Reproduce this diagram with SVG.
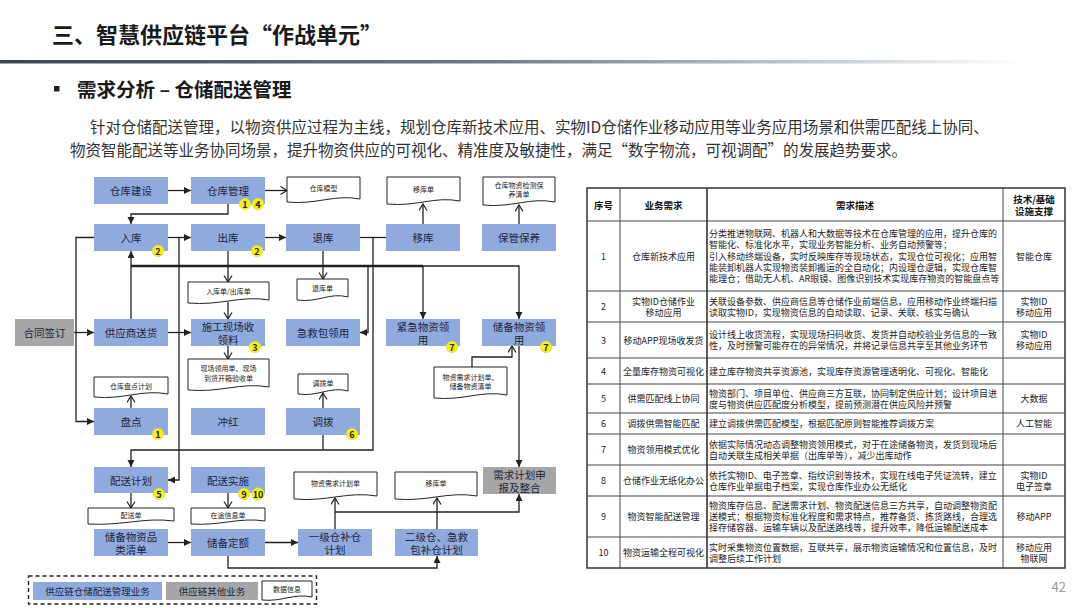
<svg xmlns="http://www.w3.org/2000/svg" width="1080" height="608" viewBox="0 0 1080 608">
<style>
text{font-family:"Noto Sans CJK SC","Noto Sans",sans-serif}
.bx{fill:#8faadc}
.gx{fill:#a6a6a6}
.nt{font-size:10.5px;fill:#1c2740;text-anchor:middle;dominant-baseline:central}
.dc{fill:#fff;stroke:#222;stroke-width:1}
.dt{font-size:7px;fill:#222;text-anchor:middle;dominant-baseline:central}
.bd circle{fill:#f4f20c;stroke:#d8d470;stroke-width:0.6}
.bd text{font-size:9px;font-weight:bold;fill:#222;text-anchor:middle;dominant-baseline:central}
.ln{fill:none;stroke:#222;stroke-width:1.3}
.fa{marker-end:url(#fa)}
.oa{marker-end:url(#oa)}
.tb{fill:none;stroke:#444;stroke-width:1}
.th{font-size:9.5px;font-weight:bold;fill:#111;text-anchor:middle;dominant-baseline:central}
.tc{font-size:9px;fill:#222;text-anchor:middle;dominant-baseline:central}
.td{font-size:9px;fill:#222;dominant-baseline:central}
</style>
<defs>
<marker id="fa" markerUnits="userSpaceOnUse" markerWidth="8" markerHeight="8" refX="7" refY="3.5" orient="auto">
<path d="M0,0 L7,3.5 L0,7 z" fill="#222"/>
</marker>
<marker id="oa" markerUnits="userSpaceOnUse" markerWidth="9" markerHeight="10" refX="7" refY="4.5" orient="auto">
<path d="M0.5,0.5 L7,4.5 L0.5,8.5" fill="none" stroke="#222" stroke-width="1.2"/>
</marker>
<linearGradient id="sep" x1="0" y1="0" x2="1" y2="0">
<stop offset="0" stop-color="#3b4651"/>
<stop offset="0.45" stop-color="#6d7a86"/>
<stop offset="0.75" stop-color="#c3cad0"/>
<stop offset="0.95" stop-color="#ffffff"/>
</linearGradient>
</defs>
<rect width="1080" height="608" fill="#fff"/>

<g id="header">
<text x="52" y="43" font-size="22" font-weight="bold" fill="#1a1a1a">三、智慧供应链平台“作战单元”</text>
<rect x="0" y="60" width="1080" height="3.5" fill="url(#sep)"/>
<rect x="54" y="86" width="5.5" height="5.5" fill="#222"/>
<text x="77" y="97" font-size="19.5" font-weight="bold" fill="#1a1a1a">需求分析 – 仓储配送管理</text>
<text x="90" y="133" font-size="15.5" fill="#333">针对仓储配送管理，以物资供应过程为主线，规划仓库新技术应用、实物ID仓储作业移动应用等业务应用场景和供需匹配线上协同、</text>
<text x="70" y="156" font-size="15.5" fill="#333">物资智能配送等业务协同场景，提升物资供应的可视化、精准度及敏捷性，满足“数字物流，可视调配”的发展趋势要求。</text>
</g>

<g id="connectors">
<path class="ln fa" d="M168,190.5 H191"/>
<path class="ln oa" d="M265,190.5 H287"/>
<path class="ln fa" d="M228,204 V214 H131 V224"/>
<path class="ln fa" d="M168,237.5 H191"/>
<path class="ln fa" d="M265,237.5 H286"/>
<path class="ln" d="M360,237.5 H386"/>
<path class="ln fa" d="M373,237.5 V450 H131 V467"/>
<path class="ln fa" d="M94,237.5 H76 V421.5 H94"/>
<path class="ln fa" d="M74,332.5 H94"/>
<path class="ln fa" d="M131,319 V251"/>
<path fill="none" stroke="#222" stroke-width="2.6" d="M131,266 H423"/>
<path class="ln fa" d="M423,266 V319"/>
<path class="ln fa" d="M423,266 H519 V319"/>
<path class="ln fa" d="M368,266 V332.5 H360"/>
<path class="ln fa" d="M179,237.5 V480 H168"/>
<path class="ln fa" d="M168,332.5 H191"/>
<path class="ln oa" d="M228,251 V282"/>
<path class="ln oa" d="M228,302 V319"/>
<path class="ln oa" d="M228,346 V359"/>
<path class="ln oa" d="M323,251 V279"/>
<path class="ln oa" d="M423,224 V204"/>
<path class="ln oa" d="M519,224 V205"/>
<path class="ln oa" d="M131,408 V396"/>
<path class="ln oa" d="M323,408 V393"/>
<path class="ln" d="M323,435 V450"/>
<path class="ln oa" d="M472,367 V357 H512 V346"/>
<path class="ln fa" d="M519,346 V467"/>
<path class="ln oa" d="M131,493 V508"/>
<path class="ln oa" d="M228,493 V508"/>
<path class="ln fa" d="M168,542.5 H191"/>
<path class="ln fa" d="M265,542.5 H298"/>
<path class="ln fa" d="M228,556 V568 H437 V556"/>
<path class="ln oa" d="M335,529 V498"/>
<path class="ln fa" d="M335,512 H519 V494"/>
<path class="ln oa" d="M437,529 V498"/>
</g>

<g id="n-jianshe"><rect class="bx" x="94" y="177" width="74" height="27"/><text class="nt" x="131" y="190.5">仓库建设</text></g>
<g id="n-guanli"><rect class="bx" x="191" y="177" width="74" height="27"/><text class="nt" x="228" y="190.5">仓库管理</text></g>
<g id="n-ruku"><rect class="bx" x="94" y="224" width="74" height="27"/><text class="nt" x="131" y="237.5">入库</text></g>
<g id="n-chuku"><rect class="bx" x="191" y="224" width="74" height="27"/><text class="nt" x="228" y="237.5">出库</text></g>
<g id="n-tuiku"><rect class="bx" x="286" y="224" width="74" height="27"/><text class="nt" x="323" y="237.5">退库</text></g>
<g id="n-yiku"><rect class="bx" x="386" y="224" width="74" height="27"/><text class="nt" x="423" y="237.5">移库</text></g>
<g id="n-baoguan"><rect class="bx" x="482" y="224" width="74" height="27"/><text class="nt" x="519" y="237.5">保管保养</text></g>
<g id="n-hetong"><rect class="gx" x="15" y="319" width="59" height="27"/><text class="nt" x="44.5" y="332.5">合同签订</text></g>
<g id="n-songhuo"><rect class="bx" x="94" y="319" width="74" height="27"/><text class="nt" x="131" y="332.5">供应商送货</text></g>
<g id="n-shigong"><rect class="bx" x="191" y="319" width="74" height="27"/><text class="nt" x="228" y="326">施工现场收</text><text class="nt" x="228" y="339">领料</text></g>
<g id="n-jijiu"><rect class="bx" x="286" y="319" width="74" height="27"/><text class="nt" x="323" y="332.5">急救包领用</text></g>
<g id="n-jinji"><rect class="bx" x="386" y="319" width="74" height="27"/><text class="nt" x="423" y="326">紧急物资领</text><text class="nt" x="423" y="339">用</text></g>
<g id="n-chubei"><rect class="bx" x="482" y="319" width="74" height="27"/><text class="nt" x="519" y="326">储备物资领</text><text class="nt" x="519" y="339">用</text></g>
<g id="n-pandian"><rect class="bx" x="94" y="408" width="74" height="27"/><text class="nt" x="131" y="421.5">盘点</text></g>
<g id="n-chonghong"><rect class="bx" x="191" y="408" width="74" height="27"/><text class="nt" x="228" y="421.5">冲红</text></g>
<g id="n-diaobo"><rect class="bx" x="286" y="408" width="74" height="27"/><text class="nt" x="323" y="421.5">调拨</text></g>
<g id="n-peisongjihua"><rect class="bx" x="94" y="467" width="74" height="26"/><text class="nt" x="131" y="480">配送计划</text></g>
<g id="n-peisongshishi"><rect class="bx" x="191" y="467" width="74" height="26"/><text class="nt" x="228" y="480">配送实施</text></g>
<g id="n-xuqiu"><rect class="gx" x="483" y="467" width="73" height="27"/><text class="nt" x="519.5" y="474">需求计划申</text><text class="nt" x="519.5" y="487">报及整合</text></g>
<g id="n-pinlei"><rect class="bx" x="94" y="529" width="74" height="27"/><text class="nt" x="131" y="536">储备物资品</text><text class="nt" x="131" y="549">类清单</text></g>
<g id="n-dinge"><rect class="bx" x="191" y="529" width="74" height="27"/><text class="nt" x="228" y="542.5">储备定额</text></g>
<g id="n-yiji"><rect class="bx" x="298" y="529" width="74" height="27"/><text class="nt" x="335" y="536">一级仓补仓</text><text class="nt" x="335" y="549">计划</text></g>
<g id="n-erji"><rect class="bx" x="395" y="529" width="83" height="27"/><text class="nt" x="436.5" y="536">二级仓、急救</text><text class="nt" x="436.5" y="549">包补仓计划</text></g>

<g id="d-moxing"><path class="dc" d="M287,177 h73 v22 c-25.5,-5 -43.8,6 -73,3 z"/><text class="dt" x="323.5" y="188">仓库模型</text></g>
<g id="d-yikudan"><path class="dc" d="M387,177 h73 v24 c-25.5,-5 -43.8,6 -73,3 z"/><text class="dt" x="423.5" y="189">移库单</text></g>
<g id="d-baoyang"><path class="dc" d="M483,177 h72 v25 c-25.2,-5 -43.2,6 -72,3 z"/><text class="dt" x="519" y="184.5">仓库物资检测保</text><text class="dt" x="519" y="194">养清单</text></g>
<g id="d-rukudan"><path class="dc" d="M188,282 h81 v18 c-28.4,-5 -48.6,6 -81,3 z"/><text class="dt" x="228.5" y="291">入库单/出库单</text></g>
<g id="d-tuikudan"><path class="dc" d="M297,279 h51 v18 c-17.9,-5 -30.6,6 -51,3 z"/><text class="dt" x="322.5" y="288">退库单</text></g>
<g id="d-xianchang"><path class="dc" d="M188,359 h81 v28 c-28.4,-5 -48.6,6 -81,3 z"/><text class="dt" x="228.5" y="368">现场领用单、现场</text><text class="dt" x="228.5" y="378">到货开箱验收单</text></g>
<g id="d-pandianjihua"><path class="dc" d="M94,377 h74 v17 c-25.9,-5 -44.4,6 -74,3 z"/><text class="dt" x="131" y="385.5">仓库盘点计划</text></g>
<g id="d-diaobodan"><path class="dc" d="M298,374 h50 v17 c-17.5,-5 -30,6 -50,3 z"/><text class="dt" x="323" y="382.5">调拨单</text></g>
<g id="d-xuqiujihua"><path class="dc" d="M434,367 h73 v28 c-25.5,-5 -43.8,6 -73,3 z"/><text class="dt" x="470.5" y="376.5">物资需求计划单、</text><text class="dt" x="470.5" y="386">储备物资清单</text></g>
<g id="d-peisongdan"><path class="dc" d="M88,508 h86 v13 c-30.1,-4 -51.6,5 -86,3 z"/><text class="dt" x="131" y="514.5">配送单</text></g>
<g id="d-zaitu"><path class="dc" d="M191,508 h74 v13 c-25.9,-4 -44.4,5 -74,3 z"/><text class="dt" x="228" y="514.5">在途信息单</text></g>
<g id="d-wuzixuqiu"><path class="dc" d="M294,472 h83 v24 c-29,-5 -49.8,6 -83,3 z"/><text class="dt" x="335.5" y="483">物资需求计划单</text></g>
<g id="d-yikudan2"><path class="dc" d="M395,472 h82 v24 c-28.7,-5 -49.2,6 -82,3 z"/><text class="dt" x="436" y="483">移库单</text></g>

<g id="badges" class="bd">
<circle cx="245" cy="204" r="5.8"/><text x="245" y="204.3">1</text>
<circle cx="258" cy="204" r="5.8"/><text x="258" y="204.3">4</text>
<circle cx="158" cy="251" r="5.8"/><text x="158" y="251.3">2</text>
<circle cx="257" cy="251" r="5.8"/><text x="257" y="251.3">2</text>
<circle cx="255" cy="347" r="5.8"/><text x="255" y="347.3">3</text>
<circle cx="452" cy="347" r="5.8"/><text x="452" y="347.3">7</text>
<circle cx="546" cy="347" r="5.8"/><text x="546" y="347.3">7</text>
<circle cx="158" cy="434" r="5.8"/><text x="158" y="434.3">1</text>
<circle cx="352" cy="434" r="5.8"/><text x="352" y="434.3">6</text>
<circle cx="159" cy="494" r="5.8"/><text x="159" y="494.3">5</text>
<circle cx="244" cy="494" r="5.8"/><text x="244" y="494.3">9</text>
<circle cx="258" cy="494" r="6.3"/><text x="258" y="494.3">10</text>
</g>

<g id="legend">
<rect x="28.5" y="576" width="288" height="28" fill="none" stroke="#222" stroke-width="1.4" stroke-dasharray="4,3"/>
<rect class="bx" x="33" y="582" width="129" height="18"/><text class="nt" x="97.5" y="591" style="font-size:9.5px">供应链仓储配送管理业务</text>
<rect class="gx" x="166" y="582" width="92" height="18"/><text class="nt" x="212" y="591" style="font-size:9.5px">供应链其他业务</text>
<path class="dc" d="M262,581 h50 v16 c-17.5,-4 -30,5 -50,3 z"/><text class="dt" x="287" y="589">数据信息</text>
</g>

<g id="table">
<rect x="587" y="188" width="478" height="380" fill="#fff" stroke="#333" stroke-width="1.5"/>
<path class="tb" d="M620,188 V568 M1003,188 V568 M587,221 H1065 M587,291 H1065 M587,322 H1065 M587,358 H1065 M587,384 H1065 M587,413 H1065 M587,434 H1065 M587,465 H1065 M587,496 H1065 M587,537 H1065"/>
<path d="M707,188 V568" stroke="#333" stroke-width="1.6"/>
<text class="th" x="603.5" y="204.5">序号</text>
<text class="th" x="663.5" y="204.5">业务需求</text>
<text class="th" x="855" y="204.5">需求描述</text>
<text class="th" x="1034" y="198.5">技术/基础</text>
<text class="th" x="1034" y="210.5">设施支撑</text>

<text class="tc" x="603.5" y="256">1</text>
<text class="tc" x="663.5" y="256">仓库新技术应用</text>
<text class="td" x="709" y="233.6">分类推进物联网、机器人和大数据等技术在仓库管理的应用，提升仓库的</text>
<text class="td" x="709" y="244.8">智能化、标准化水平，实现业务智能分析、业务自动预警等；</text>
<text class="td" x="709" y="256">引入移动终端设备，实时反映库存等现场状态，实现仓位可视化；应用智</text>
<text class="td" x="709" y="267.2">能装卸机器人实现物资装卸搬运的全自动化；内设理仓逻辑，实现仓库智</text>
<text class="td" x="709" y="278.4">能理仓；借助无人机、AR眼镜、图像识别技术实现库存物资的智能盘点等</text>
<text class="tc" x="1034" y="256">智能仓库</text>

<text class="tc" x="603.5" y="306.5">2</text>
<text class="tc" x="663.5" y="301">实物ID仓储作业</text>
<text class="tc" x="663.5" y="312">移动应用</text>
<text class="td" x="709" y="301">关联设备参数、供应商信息等仓储作业前端信息，应用移动作业终端扫描</text>
<text class="td" x="709" y="312">读取实物ID，实现物资信息的自动读取、记录、关联、核实与确认</text>
<text class="tc" x="1034" y="301">实物ID</text>
<text class="tc" x="1034" y="312">移动应用</text>

<text class="tc" x="603.5" y="340">3</text>
<text class="tc" x="663.5" y="340">移动APP现场收发货</text>
<text class="td" x="709" y="334.5">设计线上收货流程，实现现场扫码收货、发货并自动校验业务信息的一致</text>
<text class="td" x="709" y="345.5">性，及时预警可能存在的异常情况，并将记录信息共享至其他业务环节</text>
<text class="tc" x="1034" y="334.5">实物ID</text>
<text class="tc" x="1034" y="345.5">移动应用</text>

<text class="tc" x="603.5" y="371">4</text>
<text class="tc" x="663.5" y="371">全量库存物资可视化</text>
<text class="td" x="709" y="371">建立库存物资共享资源池，实现库存资源管理透明化、可视化、智能化</text>

<text class="tc" x="603.5" y="398.5">5</text>
<text class="tc" x="663.5" y="398.5">供需匹配线上协同</text>
<text class="td" x="709" y="393">物资部门、项目单位、供应商三方互联，协同制定供应计划；设计项目进</text>
<text class="td" x="709" y="404">度与物资供应匹配度分析模型，提前预测潜在供应风险并预警</text>
<text class="tc" x="1034" y="398.5">大数据</text>

<text class="tc" x="603.5" y="423.5">6</text>
<text class="tc" x="663.5" y="423.5">调拨供需智能匹配</text>
<text class="td" x="709" y="423.5">建立调拨供需匹配模型，根据匹配原则智能推荐调拨方案</text>
<text class="tc" x="1034" y="423.5">人工智能</text>

<text class="tc" x="603.5" y="449.5">7</text>
<text class="tc" x="663.5" y="449.5">物资领用模式优化</text>
<text class="td" x="709" y="444">依据实际情况动态调整物资领用模式，对于在途储备物资，发货到现场后</text>
<text class="td" x="709" y="455">自动关联生成相关单据（出库单等），减少出库动作</text>

<text class="tc" x="603.5" y="480.5">8</text>
<text class="tc" x="663.5" y="480.5">仓储作业无纸化办公</text>
<text class="td" x="709" y="475">依托实物ID、电子签章、指纹识别等技术，实现在线电子凭证流转，建立</text>
<text class="td" x="709" y="486">仓库作业单据电子档案，实现仓库作业办公无纸化</text>
<text class="tc" x="1034" y="475">实物ID</text>
<text class="tc" x="1034" y="486">电子签章</text>

<text class="tc" x="603.5" y="516.5">9</text>
<text class="tc" x="663.5" y="516.5">物资智能配送管理</text>
<text class="td" x="709" y="505.3">物资库存信息、配送需求计划、物资配送信息三方共享，自动调整物资配</text>
<text class="td" x="709" y="516.5">送模式；根据物资标准化程度和需求特点，推荐备货、拣货路线，合理选</text>
<text class="td" x="709" y="527.7">择存储容器、运输车辆以及配送路线等，提升效率，降低运输配送成本</text>
<text class="tc" x="1034" y="516.5">移动APP</text>

<text class="tc" x="603.5" y="552.5">10</text>
<text class="tc" x="663.5" y="552.5">物资运输全程可视化</text>
<text class="td" x="709" y="547">实时采集物资位置数据，互联共享，展示物资运输情况和位置信息，及时</text>
<text class="td" x="709" y="558">调整后续工作计划</text>
<text class="tc" x="1034" y="547">移动应用</text>
<text class="tc" x="1034" y="558">物联网</text>
</g>

<text x="1066" y="592" font-size="13" fill="#9a9a9a" text-anchor="end" font-family="Liberation Sans, sans-serif">42</text>
</svg>
